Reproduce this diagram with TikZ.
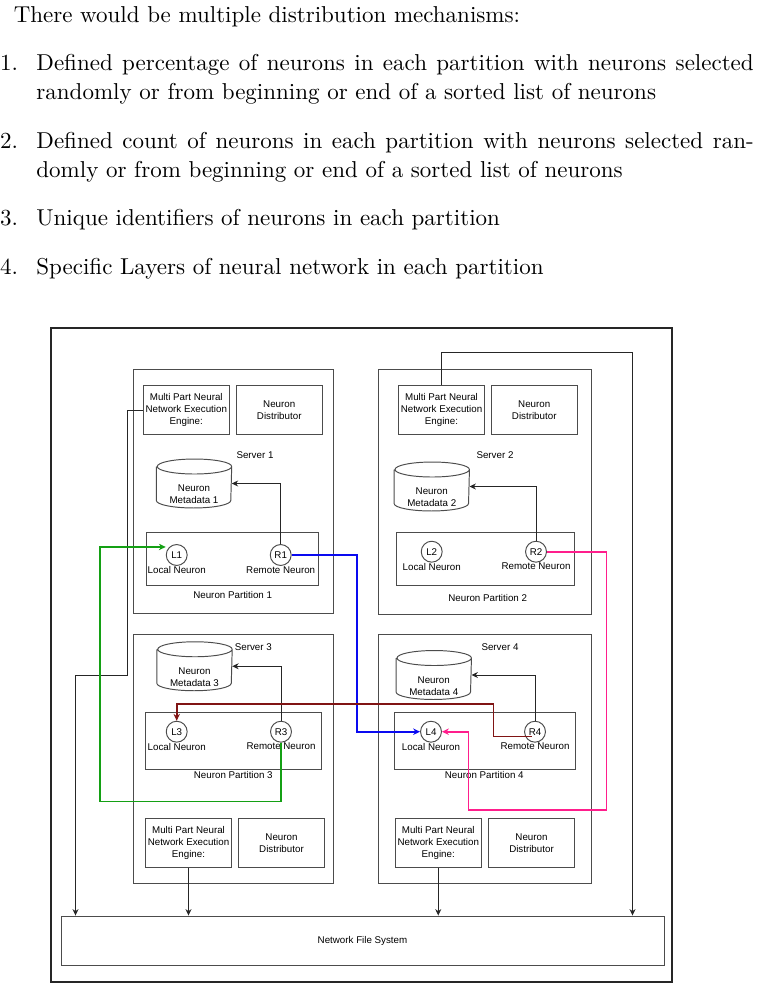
\documentclass[tikz,border=0pt]{standalone}
\usepackage{fontspec}
\newfontfamily\diagfont{Liberation Sans}
\usetikzlibrary{arrows.meta,fit}

\definecolor{flowgreen}{RGB}{20,160,20}
\definecolor{flowblue}{RGB}{10,10,240}
\definecolor{flowpink}{RGB}{255,30,140}
\definecolor{flowred}{RGB}{128,20,20}

\begin{document}
\begin{tikzpicture}[x=0.435pt, y=-0.435pt,
    diag/.style={font=\diagfont\fontsize{4.25}{5.15}\selectfont},
    boxline/.style={draw=black!70, line width=0.42pt},
    boxnode/.style={boxline, diag, inner sep=0pt, align=center},
    engbox/.style={boxnode, minimum width=37.6pt, minimum height=21.3pt},
    lbl/.style={diag, inner sep=0.5pt, align=center},
    neuron/.style={circle, boxline, fill=white, diag, minimum size=9.1pt, inner sep=0pt, label distance=3.6pt},
    localn/.style={neuron, label={[lbl, inner sep=0pt]below:Local Neuron}},
    remoten/.style={neuron, label={[lbl, inner sep=0pt]below:Remote Neuron}},
    dbbox/.style={minimum width=32.4pt, minimum height=20.9pt, inner sep=0pt},
    conn/.style={draw=black!85, line width=0.42pt, -{Stealth[length=2.8pt,width=2.6pt]}},
    flow/.style={line width=0.7pt, -{Stealth[length=3pt,width=2.8pt]}},
    listitem/.style={anchor=base west, inner sep=0pt, text width=312pt, align=justify, font=\fontsize{10}{12.6}\selectfont},
    itemnum/.style={anchor=base east, inner sep=0pt}]
    \useasboundingbox (0,0) rectangle (760,988);

    % Text above the figure
    \node[anchor=base west, inner sep=0pt] (intro) at (13.3,22.7) {There would be multiple distribution mechanisms:};
    \node[itemnum] (num1) at (18.5,70.7) {1.};
    \node[listitem] (item1) at (36,70.7) {Defined percentage of neurons in each partition with neurons selected\linebreak randomly or from beginning or end of a sorted list of neurons};
    \node[itemnum] (num2) at (18.5,148.3) {2.};
    \node[listitem] (item2) at (36,148.3) {Defined count of neurons in each partition with neurons selected ran-\linebreak domly or from beginning or end of a sorted list of neurons};
    \node[itemnum] (num3) at (18.5,225.5) {3.};
    \node[listitem] (item3) at (36,225.5) {Unique identifiers of neurons in each partition};
    \node[itemnum] (num4) at (18.5,274) {4.};
    \node[listitem] (item4) at (36,274) {Specific Layers of neural network in each partition};

    % Frame and servers
    \node[boxnode, draw=black!85, line width=0.5pt, fit={(51,328) (672,982)}] (outer) {};
    \node[boxnode, fit={(133,369) (333.5,613.5)}] (srv1) {};
    \node[boxnode, fit={(378.5,369) (591,614)}] (srv2) {};
    \node[boxnode, fit={(133,634) (333.5,883.5)}] (srv3) {};
    \node[boxnode, fit={(378.5,634) (591,883.5)}] (srv4) {};
    \node[lbl] (srvtxt1) at (255,455) {Server 1};
    \node[lbl] (srvtxt2) at (495,455) {Server 2};
    \node[lbl] (srvtxt3) at (253.3,646.7) {Server 3};
    \node[lbl] (srvtxt4) at (500,646.7) {Server 4};

    % Engines and distributors
    \node[engbox] (eng1) at (186.25,410) {Multi Part Neural\\Network Execution\\Engine:};
    \node[engbox] (dist1) at (279.25,410) {Neuron\\Distributor};
    \node[engbox] (eng2) at (441.5,410) {Multi Part Neural\\Network Execution\\Engine:};
    \node[engbox] (dist2) at (534.25,410) {Neuron\\Distributor};
    \node[engbox] (eng3) at (188.5,843) {Multi Part Neural\\Network Execution\\Engine:};
    \node[engbox] (dist3) at (281.5,843) {Neuron\\Distributor};
    \node[engbox] (eng4) at (438.25,843) {Multi Part Neural\\Network Execution\\Engine:};
    \node[engbox] (dist4) at (531.5,843) {Neuron\\Distributor};

    % Partitions
    \node[boxnode, fit={(146.5,532.5) (318.5,585.5)}] (part1) {};
    \node[boxnode, fit={(396.5,532) (574.5,585)}] (part2) {};
    \node[boxnode, fit={(145.5,712) (321,769)}] (part3) {};
    \node[boxnode, fit={(394.5,712) (575,769)}] (part4) {};
    \node[lbl] (parttxt1) at (232.7,595) {Neuron Partition 1};
    \node[lbl] (parttxt2) at (487.7,598.3) {Neuron Partition 2};
    \node[lbl] (parttxt3) at (233.3,775) {Neuron Partition 3};
    \node[lbl] (parttxt4) at (484.3,775) {Neuron Partition 4};

    % Neurons
    \node[localn] (L1) at (176.7,555) {L1};
    \node[remoten] (R1) at (280.7,555) {R1};
    \node[localn] (L2) at (431.7,551.7) {L2};
    \node[remoten] (R2) at (536,551.7) {R2};
    \node[localn] (L3) at (176.7,731.7) {L3};
    \node[remoten] (R3) at (281,731.7) {R3};
    \node[localn] (L4) at (431,731.7) {L4};
    \node[remoten] (R4) at (535,731.7) {R4};

    % Metadata stores
    \foreach \n/\x/\y in {1/194/483.5, 2/431.75/486.5, 3/194.5/666.25, 4/433.75/675} {
        \node[dbbox] (meta\n) at (\x,\y) {};
        \draw[boxline, fill=white] ([yshift=-3.26pt]meta\n.north west) -- ([yshift=3.26pt]meta\n.south west)
            arc[start angle=180, end angle=360, x radius=16.2pt, y radius=3.26pt]
            -- ([yshift=-3.26pt]meta\n.north east)
            arc[start angle=0, end angle=360, x radius=16.2pt, y radius=3.26pt];
        \node[lbl] (metatxt\n) at ([yshift=-4.8pt]meta\n.center) {Neuron\\Metadata \n};
    }

    % Network file system
    \node[boxnode, minimum width=262.3pt, minimum height=21.3pt] (nfs) at (362.5,940.5) {Network File System};

    % Black connectors
    \foreach \n in {1,...,4}
        \draw[conn] (R\n.north) |- (meta\n.east);
    \coordinate (bendA) at (127.5,675);
    \coordinate (bendB) at (75.5,675);
    \draw[conn] (eng1.west) -| (bendA) -- (bendB) -- (bendB |- nfs.north);
    \coordinate (bendC) at (632.5,352.5);
    \draw[conn] (eng2.north) |- (bendC) -- (bendC |- nfs.north);
    \draw[conn] (eng3.south) -- (eng3.south |- nfs.north);
    \draw[conn] (eng4.south) -- (eng4.south |- nfs.north);

    % Coloured neuron links
    \coordinate (greenA) at (100,801.5);
    \draw[flow, flowgreen] (R3.south) |- (greenA) |- ([yshift=3.5pt]L1.west);
    \coordinate (blueA) at (357,731.7);
    \draw[flow, flowblue] (R1.east) -| (blueA) -- (L4.west);
    \coordinate (pinkA) at (606.5,810);
    \coordinate (pinkB) at (468.5,810);
    \draw[flow, flowpink] (R2.east) -| (pinkA) -- (pinkB) |- (L4.east);
    \coordinate (redA) at (531.5,736.5);
    \coordinate (redB) at (493.5,704);
    \draw[flow, flowred] (redA) -| (redB) -| (L3.north);
\end{tikzpicture}
\end{document}
